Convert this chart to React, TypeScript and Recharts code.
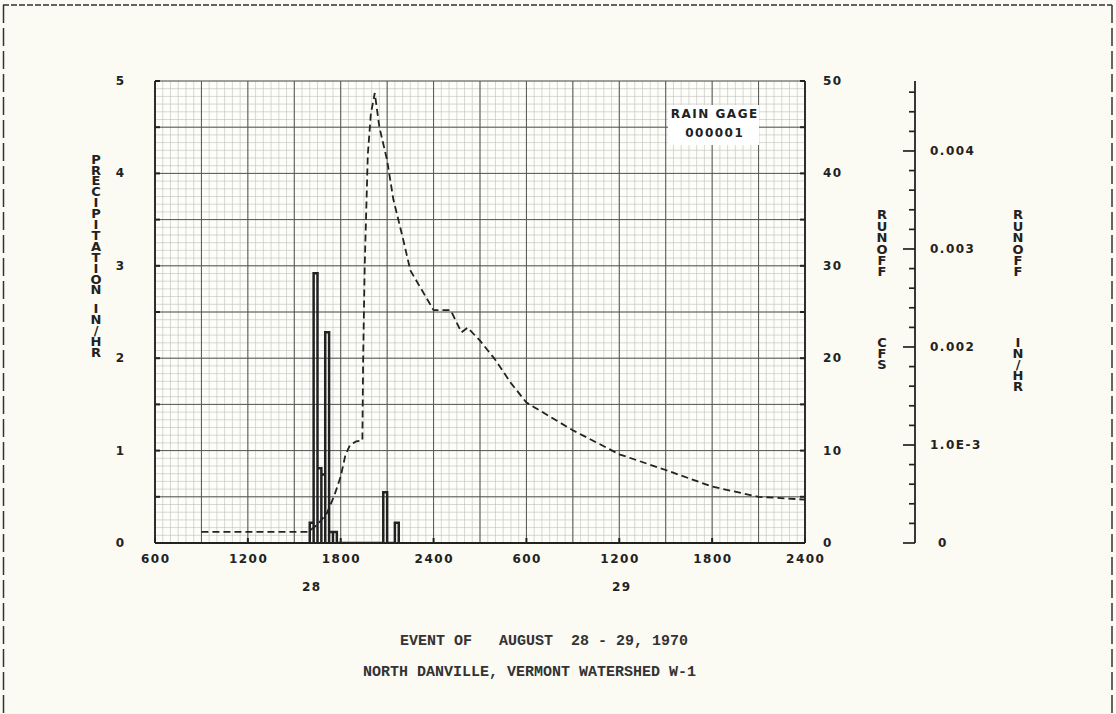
import React from 'react';
import { ComposedChart, Line, XAxis, YAxis, CartesianGrid } from 'recharts';

// ---------- data (hours after 0600, Aug 28) ----------
const xTickValues = [0, 6, 12, 18, 24, 30, 36, 42];
const xTickLabels = ['600', '1200', '1800', '2400', '600', '1200', '1800', '2400'];
const dayLabels = ['28', '29'];

const precipTickValues = [0, 0.5, 1, 1.5, 2, 2.5, 3, 3.5, 4, 4.5, 5];
const precipLabelValues = [0, 1, 2, 3, 4, 5];
const precipLabels = ['0', '1', '2', '3', '4', '5'];

const cfsTickValues = [0, 5, 10, 15, 20, 25, 30, 35, 40, 45, 50];
const cfsLabelValues = [0, 10, 20, 30, 40, 50];
const cfsLabels = ['0', '10', '20', '30', '40', '50'];

const inHrTickValues = [
  0, 0.0002, 0.0004, 0.0006, 0.0008, 0.001, 0.0012, 0.0014, 0.0016, 0.0018, 0.002, 0.0022,
  0.0024, 0.0026, 0.0028, 0.003, 0.0032, 0.0034, 0.0036, 0.0038, 0.004, 0.0042, 0.0044, 0.0046,
];
const inHrLabelValues = [0, 0.001, 0.002, 0.003, 0.004];
const inHrLabels = ['0', '1.0E-3', '0.002', '0.003', '0.004'];

// runoff hydrograph (cfs)
const runoffHours = [
  3.0, 9.9, 10.5, 11.1, 11.6, 12.0, 12.3, 12.6, 13.0, 13.4, 13.45, 13.55, 13.75, 13.95, 14.2,
  14.5, 15.0, 15.4, 16.0, 16.5, 18.0, 19.1, 19.8, 20.2, 21.0, 22.0, 23.0, 24.0, 27.0, 30.0,
  33.0, 36.0, 39.0, 42.0,
];
const runoffCfs = [
  1.2, 1.2, 2.0, 3.2, 5.2, 7.2, 9.5, 10.6, 11.0, 11.1, 20.0, 30.0, 42.0, 46.5, 48.7,
  45.0, 41.4, 37.2, 33.1, 29.5, 25.2, 25.2, 22.8, 23.3, 21.9, 19.8, 17.3, 15.2, 12.2, 9.6,
  7.9, 6.1, 5.0, 4.7,
];

// precipitation intensity bars (in/hr), 15-minute intervals
const precipStart = [10.0, 10.25, 10.5, 10.75, 11.0, 11.25, 11.5, 14.75, 15.5];
const precipEnd = [10.25, 10.5, 10.75, 11.0, 11.25, 11.5, 11.75, 15.0, 15.75];
const precipRate = [0.22, 2.92, 0.81, 0.74, 2.28, 0.12, 0.12, 0.55, 0.22];

// ---------- styling ----------
const INK = '#222222';
const BG = '#fbfaf3';
const PLOT_FONT = '"DejaVu Sans", sans-serif';
const LS = 1.5;

const minorX: number[] = [];
for (let i = 0; i <= 84; i++) minorX.push(i * 0.5);
const majorX: number[] = [];
for (let i = 0; i <= 14; i++) majorX.push(i * 3);
const minorY: number[] = [];
for (let i = 0; i <= 60; i++) minorY.push(i / 12);
const majorY: number[] = [];
for (let i = 0; i <= 10; i++) majorY.push(i * 0.5);

const findIdx = (arr: number[], v: number) => arr.findIndex((a) => Math.abs(a - v) < 1e-9);

const textStyle = {
  fontFamily: PLOT_FONT,
  fontWeight: 700 as const,
  fontSize: 12,
  fill: INK,
};

const XTick = (props: any) => {
  const { x, y, payload } = props;
  const i = findIdx(xTickValues, payload.value);
  const axisY = y - 16;
  return (
    <g>
      <line x1={x} x2={x} y1={axisY} y2={axisY - 5} stroke={INK} strokeWidth={2} />
      <text x={x} y={y} dx={LS / 2} textAnchor="middle" dominantBaseline="central" letterSpacing={LS} {...textStyle}>
        {i >= 0 ? xTickLabels[i] : ''}
      </text>
    </g>
  );
};

const PTick = (props: any) => {
  const { x, y, payload } = props;
  const axisX = x + 31;
  const i = findIdx(precipLabelValues, payload.value);
  return (
    <g>
      <line x1={axisX} x2={axisX + 5} y1={y} y2={y} stroke={INK} strokeWidth={2} />
      {i >= 0 && (
        <text x={x} y={y} textAnchor="end" dominantBaseline="central" {...textStyle}>
          {precipLabels[i]}
        </text>
      )}
    </g>
  );
};

const QTick = (props: any) => {
  const { x, y, payload } = props;
  const axisX = x - 18;
  const i = findIdx(cfsLabelValues, payload.value);
  return (
    <g>
      <line x1={axisX - 5} x2={axisX} y1={y} y2={y} stroke={INK} strokeWidth={2} />
      {i >= 0 && (
        <text x={x} y={y} textAnchor="start" dominantBaseline="central" letterSpacing={LS} {...textStyle}>
          {cfsLabels[i]}
        </text>
      )}
    </g>
  );
};

const RTick = (props: any) => {
  const { x, y, payload } = props;
  const axisX = x - 15;
  const i = findIdx(inHrLabelValues, payload.value);
  const major = i >= 0;
  return (
    <g>
      <line x1={axisX - (major ? 12 : 6)} x2={axisX} y1={y} y2={y} stroke={INK} strokeWidth={1.7} />
      {major && (
        <text
          x={x}
          y={y}
          dx={i === 0 ? 8 : 0}
          textAnchor="start"
          dominantBaseline="central"
          letterSpacing={LS}
          {...textStyle}
        >
          {inHrLabels[i]}
        </text>
      )}
    </g>
  );
};

const Stack = ({ text, cx, top, pitch }: { text: string; cx: number; top: number; pitch: number }) => (
  <div
    style={{
      position: 'absolute',
      left: cx - 6,
      top,
      width: 12,
      wordBreak: 'break-all',
      lineBreak: 'anywhere',
      lineHeight: `${pitch}px`,
      textAlign: 'center',
      fontFamily: PLOT_FONT,
      fontWeight: 700,
      fontSize: 13,
      color: INK,
    }}
  >
    {text}
  </div>
);

const Label = ({ text, cx, cy }: { text: string; cx: number; cy: number }) => (
  <div
    style={{
      position: 'absolute',
      left: cx - 60,
      top: cy - 8,
      width: 120,
      lineHeight: '16px',
      textAlign: 'center',
      fontFamily: PLOT_FONT,
      fontWeight: 700,
      fontSize: 12,
      letterSpacing: LS,
      paddingLeft: LS,
      boxSizing: 'border-box',
      color: INK,
      whiteSpace: 'pre',
    }}
  >
    {text}
  </div>
);

const Typed = ({ text, left, cy }: { text: string; left: number; cy: number }) => (
  <div
    style={{
      position: 'absolute',
      left,
      top: cy - 9,
      lineHeight: '18px',
      fontFamily: '"Liberation Mono", "Courier New", monospace',
      fontWeight: 700,
      fontSize: 15,
      color: '#333',
      whiteSpace: 'pre',
    }}
  >
    {text}
  </div>
);

export default function App() {
  const runoffData = runoffHours.map((h, i) => ({ h, q: runoffCfs[i] }));
  const precipData = precipStart.flatMap((s, i) => [
    { h: s, p: 0 },
    { h: s, p: precipRate[i] },
    { h: precipEnd[i], p: precipRate[i] },
    { h: precipEnd[i], p: 0 },
  ]);

  return (
    <div
      style={{
        position: 'absolute',
        left: 0,
        top: 0,
        width: 1116,
        height: 714,
        background: BG,
        overflow: 'hidden',
      }}
    >
      <ComposedChart width={1116} height={714} margin={{ top: 81, right: 121, bottom: 141, left: 95 }}>
        <CartesianGrid
          yAxisId="p"
          verticalValues={minorX}
          horizontalValues={minorY}
          stroke="#bdbdbd"
          strokeWidth={0.6}
          fill="#fdfdf9"
        />
        <CartesianGrid yAxisId="p" verticalValues={majorX} horizontalValues={majorY} stroke="#555555" strokeWidth={1} />
        <XAxis
          dataKey="h"
          type="number"
          domain={[0, 42]}
          ticks={xTickValues}
          interval={0}
          height={30}
          tickSize={0}
          tickMargin={16}
          tickLine={false}
          tick={XTick}
          axisLine={{ stroke: INK, strokeWidth: 1.8 }}
          allowDataOverflow
        />
        <XAxis
          xAxisId="top"
          orientation="top"
          type="number"
          domain={[0, 42]}
          ticks={xTickValues}
          interval={0}
          height={0}
          mirror
          tick={false}
          tickSize={5}
          tickLine={{ stroke: INK, strokeWidth: 2 }}
          axisLine={{ stroke: INK, strokeWidth: 1.8 }}
          allowDataOverflow
        />
        <YAxis
          yAxisId="p"
          type="number"
          domain={[0, 5]}
          ticks={precipTickValues}
          interval={0}
          width={60}
          tickSize={0}
          tickMargin={31}
          tickLine={false}
          tick={PTick}
          axisLine={{ stroke: INK, strokeWidth: 1.8 }}
          allowDataOverflow
        />
        <YAxis
          yAxisId="q"
          orientation="right"
          type="number"
          domain={[0, 50]}
          ticks={cfsTickValues}
          interval={0}
          width={110}
          tickSize={0}
          tickMargin={18}
          tickLine={false}
          tick={QTick}
          axisLine={{ stroke: INK, strokeWidth: 1.8 }}
          allowDataOverflow
        />
        <YAxis
          yAxisId="r"
          orientation="right"
          type="number"
          domain={[0, 0.004714]}
          ticks={inHrTickValues}
          interval={0}
          width={80}
          tickSize={0}
          tickMargin={15}
          tickLine={false}
          tick={RTick}
          axisLine={{ stroke: INK, strokeWidth: 1.8 }}
          allowDataOverflow
        />
        <Line
          data={precipData}
          yAxisId="p"
          dataKey="p"
          type="linear"
          stroke={INK}
          strokeWidth={2.5}
          dot={false}
          activeDot={false}
          isAnimationActive={false}
        />
        <Line
          data={runoffData}
          yAxisId="q"
          dataKey="q"
          type="linear"
          stroke={INK}
          strokeWidth={1.8}
          strokeDasharray="7 4"
          dot={false}
          activeDot={false}
          isAnimationActive={false}
        />
      </ComposedChart>

      {/* legend box */}
      <div style={{ position: 'absolute', left: 668, top: 105, width: 91, height: 40, background: '#ffffff' }} />
      <Label text="RAIN GAGE" cx={714} cy={113.5} />
      <Label text="000001" cx={714} cy={133} />

      {/* day labels */}
      <Label text={dayLabels[0]} cx={311} cy={587} />
      <Label text={dayLabels[1]} cx={621} cy={587} />

      {/* axis titles */}
      <Stack text="PRECIPITATION" cx={96} top={154.6} pitch={10.9} />
      <Stack text="IN/HR" cx={96} top={302.6} pitch={11} />
      <Stack text="RUNOFF" cx={882} top={209.4} pitch={11.4} />
      <Stack text="CFS" cx={882} top={336.5} pitch={11} />
      <Stack text="RUNOFF" cx={1018} top={209.4} pitch={11.4} />
      <Stack text="IN/HR" cx={1018} top={336.5} pitch={11} />

      {/* captions */}
      <Typed text="EVENT OF   AUGUST  28 - 29, 1970" left={400} cy={642} />
      <Typed text="NORTH DANVILLE, VERMONT WATERSHED W-1" left={363} cy={673} />

      {/* page frame */}
      <svg width={1116} height={714} style={{ position: 'absolute', left: 0, top: 0, pointerEvents: 'none' }}>
        <line x1={3} y1={5} x2={1112} y2={5} stroke="#333" strokeWidth={1.3} strokeDasharray="6 2" />
        <line x1={3.5} y1={5} x2={3.5} y2={714} stroke="#333" strokeWidth={1.5} strokeDasharray="18 5" />
        <line x1={1112} y1={5} x2={1112} y2={714} stroke="#333" strokeWidth={1.5} strokeDasharray="18 5" />
      </svg>
    </div>
  );
}
